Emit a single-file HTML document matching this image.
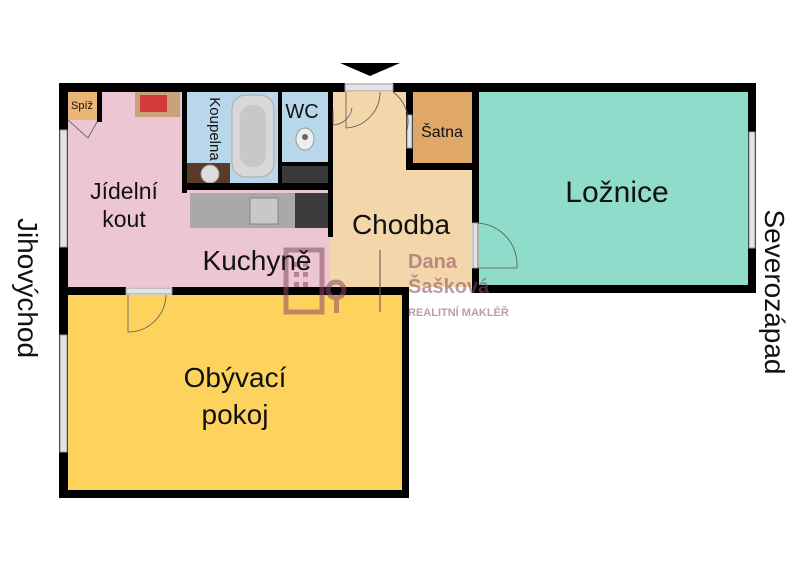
<!DOCTYPE html>
<html><head><meta charset="utf-8"><style>
html,body{margin:0;padding:0;background:#fff;width:800px;height:566px;overflow:hidden}
svg{display:block}
text{font-family:"Liberation Sans",sans-serif;fill:#111}
</style></head><body>
<svg width="800" height="566" viewBox="0 0 800 566" xmlns="http://www.w3.org/2000/svg">
<!-- floors -->
<rect x="68" y="92" width="262" height="195" fill="#ecc6d3"/>
<rect x="330" y="92" width="142" height="195" fill="#f3d6aa"/>
<rect x="413" y="92" width="59" height="71" fill="#e0a868"/>
<rect x="479" y="92" width="269" height="195" fill="#8fdccb"/>
<rect x="68" y="295" width="334" height="195" fill="#fdd35e"/>
<rect x="68" y="92" width="29" height="28" fill="#e9b577"/>
<!-- bathroom -->
<rect x="187" y="92" width="91" height="91" fill="#b9d7ea"/>
<rect x="282" y="92" width="46" height="70" fill="#b9d7ea"/>
<rect x="282" y="166" width="46" height="24" fill="#3a3a3a"/>
<rect x="232" y="95" width="42" height="82" rx="14" fill="#d8d8d8" stroke="#aaa"/>
<rect x="240" y="105" width="26" height="62" rx="12" fill="#c8c8c8"/>
<rect x="187" y="163" width="43" height="20" fill="#5a3a28"/>
<circle cx="210" cy="174" r="9" fill="#ddd" stroke="#999"/>
<ellipse cx="305" cy="139" rx="9" ry="11" fill="#eee" stroke="#999"/>
<circle cx="305" cy="137" r="3" fill="#666"/>
<!-- kitchen counter -->
<rect x="190" y="193" width="105" height="35" fill="#a9a9a9"/>
<rect x="250" y="198" width="28" height="26" fill="#c8c8c8" stroke="#888"/>
<rect x="295" y="193" width="33" height="35" fill="#3c3c3c"/>
<!-- rug -->
<rect x="135" y="92" width="45" height="25" fill="#c9a17a"/>
<rect x="140" y="95" width="27" height="17" fill="#d43a3a"/>
<!-- walls -->
<g fill="#000">
<rect x="59" y="83" width="286" height="9"/>
<rect x="393" y="83" width="363" height="9"/>
<rect x="59" y="83" width="9" height="415"/>
<rect x="748" y="83" width="8" height="210"/>
<rect x="472" y="285" width="284" height="8"/>
<rect x="59" y="287" width="67" height="8"/>
<rect x="172" y="287" width="237" height="8"/>
<rect x="402" y="287" width="7" height="211"/>
<rect x="59" y="490" width="350" height="8"/>
<rect x="472" y="84" width="7" height="139"/>
<rect x="472" y="268" width="7" height="25"/>
<rect x="406" y="92" width="7" height="78"/>
<rect x="406" y="163" width="66" height="7"/>
<rect x="97" y="92" width="5" height="30"/>
<rect x="182" y="92" width="5" height="101"/>
<rect x="182" y="183" width="146" height="7"/>
<rect x="278" y="92" width="4" height="98"/>
<rect x="282" y="162" width="46" height="4"/>
<rect x="328" y="92" width="5" height="145"/>
</g>
<!-- windows -->
<g fill="#e4e4e4" stroke="#999" stroke-width="1">
<rect x="60" y="130" width="7" height="117"/>
<rect x="60" y="335" width="7" height="117"/>
<rect x="749" y="132" width="6" height="116"/>
<rect x="345" y="84" width="48" height="7"/>
<rect x="126" y="288" width="46" height="6"/>
<rect x="473" y="223" width="5" height="45"/>
<rect x="407" y="115" width="5" height="33"/>
</g>
<!-- door arcs -->
<g fill="none" stroke="#555" stroke-width="0.8">
<path d="M478 223 L478 268 L517 268 A42 42 0 0 0 478 223"/>
<path d="M128 295 L128 332 A38 38 0 0 0 166 295"/>
<path d="M346 92 L346 128 A36 36 0 0 0 380 92"/>
<path d="M393 92 A36 36 0 0 1 407 130"/>
<path d="M68 120 L88 138 L97 122"/>
<path d="M333 110 L333 125 A20 20 0 0 0 352 108"/>
</g>
<!-- entrance arrow -->
<polygon points="340,63 400,63 370,76" fill="#000"/>
<!-- logo -->
<g opacity="0.55" fill="#8a4a63">
<rect x="286" y="250" width="36" height="62" fill="none" stroke="#8a4a63" stroke-width="5"/>
<rect x="294" y="262" width="5" height="5"/><rect x="303" y="262" width="5" height="5"/>
<rect x="294" y="272" width="5" height="5"/><rect x="303" y="272" width="5" height="5"/>
<rect x="294" y="282" width="5" height="5"/><rect x="303" y="282" width="5" height="5"/>
<circle cx="336" cy="290" r="8" fill="none" stroke="#8a4a63" stroke-width="5"/>
<rect x="334" y="298" width="5" height="15"/>
<rect x="379" y="250" width="2" height="62"/>
<text x="408" y="268" font-size="20" font-weight="bold" style="fill:#8a4a63">Dana</text>
<text x="408" y="293" font-size="20" font-weight="bold" style="fill:#8a4a63">Šašková</text>
<text x="408" y="316" font-size="11" font-weight="bold" style="fill:#8a4a63">REALITNÍ MAKLÉŘ</text>
</g>
<!-- labels -->
<text x="617" y="202" font-size="30" text-anchor="middle">Ložnice</text>
<text x="401" y="234" font-size="28" text-anchor="middle">Chodba</text>
<text x="257" y="270" font-size="28" text-anchor="middle">Kuchyně</text>
<text x="124" y="199" font-size="23" text-anchor="middle">Jídelní</text>
<text x="124" y="227" font-size="23" text-anchor="middle">kout</text>
<text x="235" y="387" font-size="28" text-anchor="middle">Obývací</text>
<text x="235" y="424" font-size="28" text-anchor="middle">pokoj</text>
<text x="442" y="137" font-size="16" text-anchor="middle">Šatna</text>
<text x="302" y="118" font-size="20" text-anchor="middle">WC</text>
<text x="82" y="109" font-size="11" text-anchor="middle">Spíž</text>
<text transform="translate(210,129) rotate(90)" font-size="15" text-anchor="middle">Koupelna</text>
<text transform="translate(18,288) rotate(90)" font-size="28" text-anchor="middle">Jihovýchod</text>
<text transform="translate(765,292) rotate(90)" font-size="28" text-anchor="middle">Severozápad</text>
</svg>
</body></html>
